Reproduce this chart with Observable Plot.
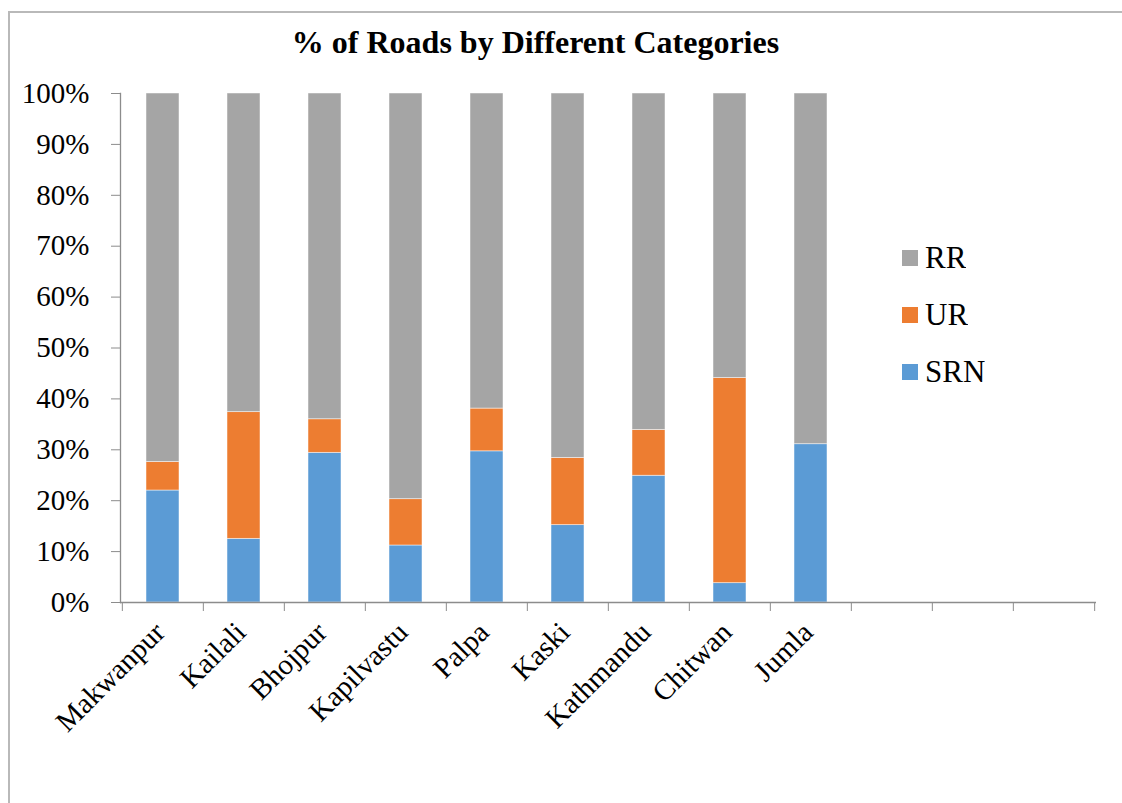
<!DOCTYPE html>
<html>
<head>
<meta charset="utf-8">
<script src="https://cdn.jsdelivr.net/npm/d3@7"></script>
<script src="https://cdn.jsdelivr.net/npm/@observablehq/plot@0.6"></script>
<style>
  html, body { margin: 0; padding: 0; background: #fff; }
  #chart { position: relative; width: 1122px; height: 803px; overflow: hidden; font-family: "Liberation Serif", "Times New Roman", serif; }
  #border { position: absolute; left: 8px; top: 11px; width: 1120px; height: 800px; border-left: 2px solid #b9b9b9; border-top: 2px solid #b9b9b9; }
  #title { position: absolute; left: 0; top: 26px; width: 1071px; text-align: center; font: bold 32px/32px "Liberation Serif", "Times New Roman", serif; color: #000; }
  #plot { position: absolute; left: 0; top: 70px; }
  #legend { position: absolute; left: 902px; top: 229px; }
  #legend .lg-swatches { font-family: "Liberation Serif", "Times New Roman", serif; font-size: 31px; color: #000; margin: 0; }
  #legend .lg-swatch { height: 57px; margin: 0; padding: 0; display: flex; align-items: center; }
  #legend .lg-swatch svg { margin-right: 7px; }
</style>
</head>
<body>
<div id="chart">
  <div id="border"></div>
  <div id="title">% of Roads by Different Categories</div>
  <div id="plot"></div>
  <div id="legend"></div>
</div>
<script>
// Share of road length (%) by road category for each district
const districts = ["Makwanpur", "Kailali", "Bhojpur", "Kapilvastu", "Palpa", "Kaski", "Kathmandu", "Chitwan", "Jumla"];
const emptySlots = [" ", "  ", "   "];          // unused category slots on the axis
const srn = [22.0, 12.5, 29.4, 11.2, 29.7, 15.2, 24.9, 3.8, 31.1];
const ur  = [5.6, 24.9, 6.6, 9.1, 8.4, 13.2, 9.0, 40.3, 0.0];
const rr  = [72.4, 62.6, 64.0, 79.7, 61.9, 71.6, 66.1, 55.9, 68.9];
const categories = ["RR", "UR", "SRN"];
const categoryColors = ["#a5a5a5", "#ed7d31", "#5b9bd5"];
const yTicks = [0, 10, 20, 30, 40, 50, 60, 70, 80, 90, 100];

// Long table, stacked bottom-up: SRN, UR, RR
const rows = [];
districts.forEach((d, i) => {
  rows.push({district: d, cat: "SRN", value: srn[i]});
  rows.push({district: d, cat: "UR", value: ur[i]});
  rows.push({district: d, cat: "RR", value: rr[i]});
});

const xDomain = districts.concat(emptySlots);
const width = 1122, height = 733;
const marginLeft = 120, marginRight = 26, marginTop = 23, marginBottom = 201;
const step = (width - marginLeft - marginRight) / xDomain.length;
const axisGray = "#8c8c8c";
const serif = "'Liberation Serif', 'Times New Roman', serif";

const colorScale = {domain: categories, range: categoryColors};

const chart = Plot.plot({
  width, height, marginLeft, marginRight, marginTop, marginBottom,
  style: {fontFamily: serif, fontSize: "29px", background: "transparent", color: "#000", overflow: "visible"},
  x: {domain: xDomain, paddingInner: 0.59, paddingOuter: 0.295, label: null},
  y: {domain: [0, 100], label: null},
  color: colorScale,
  marks: [
    Plot.barY(rows, Plot.stackY({
      x: "district", y: "value", fill: "cat",
      stroke: "white", strokeWidth: 0.8, strokeOpacity: 0.6
    })),
    Plot.frame({anchor: "left", stroke: axisGray, strokeWidth: 1.3}),
    Plot.ruleY([0], {stroke: axisGray, strokeWidth: 1.3}),
    Plot.axisY({ticks: yTicks, tickSize: 9, tickPadding: 22, tickFormat: d => d + "%",
      stroke: axisGray, fill: "#000", fontSize: 29, label: null}),
    // boundary ticks between categories
    Plot.axisX({ticks: xDomain, tickSize: 9, tickFormat: () => "", stroke: axisGray, dx: -step / 2, label: null}),
    Plot.axisX({ticks: [xDomain[xDomain.length - 1]], tickSize: 9, tickFormat: () => "", stroke: axisGray, dx: step / 2, label: null}),
    // category names
    Plot.axisX({ticks: xDomain, tickSize: 0, tickPadding: 25, tickRotate: -45, dx: -3,
      fill: "#000", fontSize: 29, label: null})
  ]
});
document.getElementById("plot").appendChild(chart);

const legend = Plot.legend({
  color: colorScale, legend: "swatches", columns: 1, swatchSize: 16, className: "lg"
});
document.getElementById("legend").appendChild(legend);
</script>
</body>
</html>
